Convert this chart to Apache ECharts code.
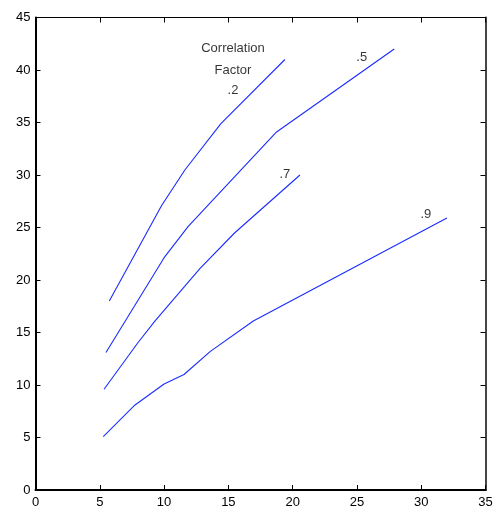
<!DOCTYPE html>
<html><head><meta charset="utf-8">
<script src="https://cdn.jsdelivr.net/npm/echarts@6/dist/echarts.min.js"></script>
<style>html,body{margin:0;padding:0;background:#fff}#c{width:497px;height:511px}</style>
</head><body><div id="c"></div>
<script>
var seriesNames = ['.2', '.5', '.7', '.9'];
var s02 = [[5.74,18.0],[9.81,27.1],[11.63,30.5],[14.42,34.9],[19.4,41.0]];
var s05 = [[5.48,13.1],[9.99,22.1],[11.88,25.1],[18.75,34.1],[27.9,42.0]];
var s07 = [[5.33,9.6],[7.95,14.0],[9.3,16.1],[12.8,21.1],[15.5,24.5],[20.57,30.0]];
var s09 = [[5.27,5.08],[7.74,8.1],[10.0,10.1],[11.55,11.0],[13.6,13.2],[16.94,16.1],[32.0,25.9]];
var xTicks = [0,5,10,15,20,25,30,35];
var yTicks = [0,5,10,15,20,25,30,35,40,45];
var annotations = [
  {text:'Correlation', x:15.36, y:42.1},
  {text:'Factor', x:15.36, y:40.0},
  {text:'.2', x:15.36, y:38.1},
  {text:'.5', x:25.37, y:41.2},
  {text:'.7', x:19.4, y:30.1},
  {text:'.9', x:30.36, y:26.25}
];
var font = '"Liberation Sans Narrow", "Liberation Sans", Arial, sans-serif';
var chart = echarts.init(document.getElementById('c'));
function mk(name, d){
  return {name:name, type:'line', data:d, symbol:'none', color:'#1a2cff',
    itemStyle:{color:'#1a2cff'}, lineStyle:{color:'#1a2cff', width:1.1},
    emphasis:{disabled:true}, xAxisIndex:0, yAxisIndex:0, animation:false};
}
chart.setOption({
  animation:false,
  backgroundColor:'#fff',
  grid:{left:35.5, right:11.5, top:17.5, bottom:21, containLabel:false},
  xAxis:[
    {type:'value', min:xTicks[0], max:xTicks[xTicks.length-1], interval:5, position:'bottom',
     axisLine:{lineStyle:{color:'#000', width:2}},
     axisTick:{inside:true, length:5, lineStyle:{color:'#000'}},
     axisLabel:{color:'#000', fontFamily:font, fontSize:13, margin:6},
     splitLine:{show:false}},
    {type:'value', min:xTicks[0], max:xTicks[xTicks.length-1], interval:5, position:'top',
     axisLine:{onZero:false, lineStyle:{color:'#000', width:1}},
     axisTick:{inside:true, length:5, lineStyle:{color:'#000'}},
     axisLabel:{show:false}, splitLine:{show:false}}
  ],
  yAxis:[
    {type:'value', min:yTicks[0], max:yTicks[yTicks.length-1], interval:5, position:'left',
     axisLine:{show:true, lineStyle:{color:'#000', width:2}},
     axisTick:{show:true, inside:true, length:5, lineStyle:{color:'#000'}},
     axisLabel:{color:'#000', fontFamily:font, fontSize:13, margin:5},
     splitLine:{show:false}},
    {type:'value', min:yTicks[0], max:yTicks[yTicks.length-1], interval:5, position:'right',
     axisLine:{show:true, onZero:false, lineStyle:{color:'#444', width:2}},
     axisTick:{show:true, inside:true, length:5, lineStyle:{color:'#000'}},
     axisLabel:{show:false}, splitLine:{show:false}}
  ],
  series:[
    mk(seriesNames[0], s02), mk(seriesNames[1], s05), mk(seriesNames[2], s07), mk(seriesNames[3], s09),
    {type:'scatter', symbolSize:0, silent:true,
     data:annotations.map(function(a){return {value:[a.x,a.y], name:a.text};}),
     label:{show:true, position:'inside', formatter:function(p){return p.name;}, color:'#000', fontFamily:font, fontSize:13}}
  ]
});
</script></body></html>
